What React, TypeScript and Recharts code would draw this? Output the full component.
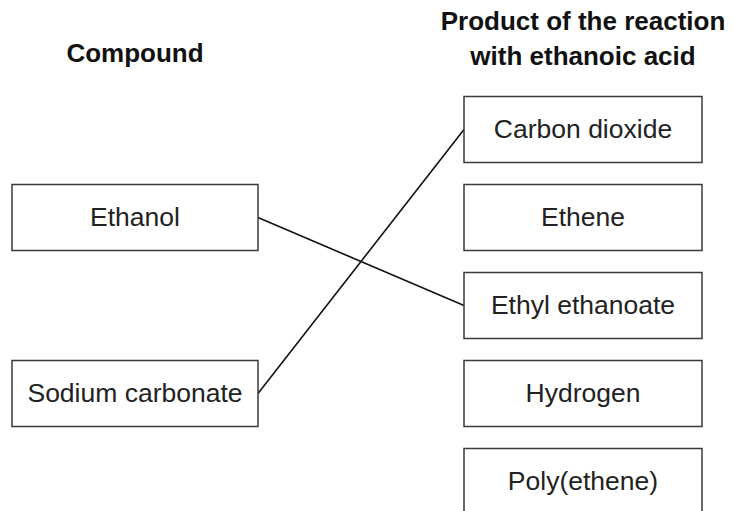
import { ComposedChart, XAxis, YAxis, Scatter } from "recharts";

// left column: compounds, and which row of the product column each sits beside
const compounds = ["Ethanol", "Sodium carbonate"];
const compoundRows = [1, 3];

// right column: products of the reaction with ethanoic acid
const products = ["Carbon dioxide", "Ethene", "Ethyl ethanoate", "Hydrogen", "Poly(ethene)"];

// the lines drawn by the student
const matches: [string, string][] = [
  ["Ethanol", "Ethyl ethanoate"],
  ["Sodium carbonate", "Carbon dioxide"],
];

const headers = [["Compound"], ["Product of the reaction", "with ethanoic acid"]];

const FONT = '"Liberation Sans", Arial, Helvetica, sans-serif';
const LEFT_W = 246;
const RIGHT_W = 238;

const boxes = [
  ...compounds.map((name, i) => ({ x: 0, y: compoundRows[i], name })),
  ...products.map((name, i) => ({ x: 1, y: i, name })),
];

const rowOf = (name: string) => boxes.find((b) => b.name === name)!;

const matchLines = matches.map(([from, to]) => [
  { x: rowOf(from).x, y: rowOf(from).y },
  { x: rowOf(to).x, y: rowOf(to).y },
]);

const BoxShape = (props: any) => {
  const { cx, cy, payload } = props;
  const w = payload.x === 0 ? LEFT_W : RIGHT_W;
  const h = 66;
  return (
    <g>
      <rect
        x={cx - w / 2}
        y={cy - h / 2}
        width={w}
        height={h}
        fill="#fff"
        stroke="#3a3a3a"
        strokeWidth={1.5}
      />
      <text
        x={cx}
        y={cy + 8.5}
        textAnchor="middle"
        fontFamily={FONT}
        fontSize={26.5}
        fill="#222"
      >
        {payload.name}
      </text>
    </g>
  );
};

// joins the right edge of the compound box to the left edge of the product box
const Connector = (props: any) => {
  const pts = props.points || [];
  if (pts.length < 2) return null;
  const [a, b] = pts;
  return (
    <path
      d={`M${a.x + LEFT_W / 2},${a.y}L${b.x - RIGHT_W / 2},${b.y}`}
      stroke="#111"
      strokeWidth={1.6}
      fill="none"
    />
  );
};

const HeaderTick = (props: any) => {
  const { x, payload } = props;
  const lines = headers[payload.value] || [];
  const baselines = lines.length === 1 ? [62] : [30, 65];
  return (
    <g>
      {lines.map((line, i) => (
        <text
          key={i}
          x={x}
          y={baselines[i]}
          textAnchor="middle"
          fontFamily={FONT}
          fontWeight="bold"
          fontSize={26}
          fill="#111"
        >
          {line}
        </text>
      ))}
    </g>
  );
};

export default function App() {
  return (
    <div style={{ width: 733, height: 511, background: "#fff" }}>
      <style>{"body{margin:0}"}</style>
      <ComposedChart
        width={733}
        height={511}
        margin={{ top: 99.5, right: 150, bottom: 29.5, left: 135 }}
      >
        <XAxis
          type="number"
          dataKey="x"
          orientation="top"
          domain={[0, 1]}
          ticks={[0, 1]}
          interval={0}
          height={30}
          axisLine={false}
          tickLine={false}
          tick={<HeaderTick />}
        />
        <YAxis type="number" dataKey="y" domain={[0, 4]} reversed hide width={0} />
        {matchLines.map((pts, i) => (
          <Scatter
            key={i}
            data={pts}
            dataKey="y"
            shape={() => <g />}
            line={<Connector />}
            isAnimationActive={false}
          />
        ))}
        <Scatter data={boxes} dataKey="y" shape={<BoxShape />} isAnimationActive={false} />
      </ComposedChart>
    </div>
  );
}
